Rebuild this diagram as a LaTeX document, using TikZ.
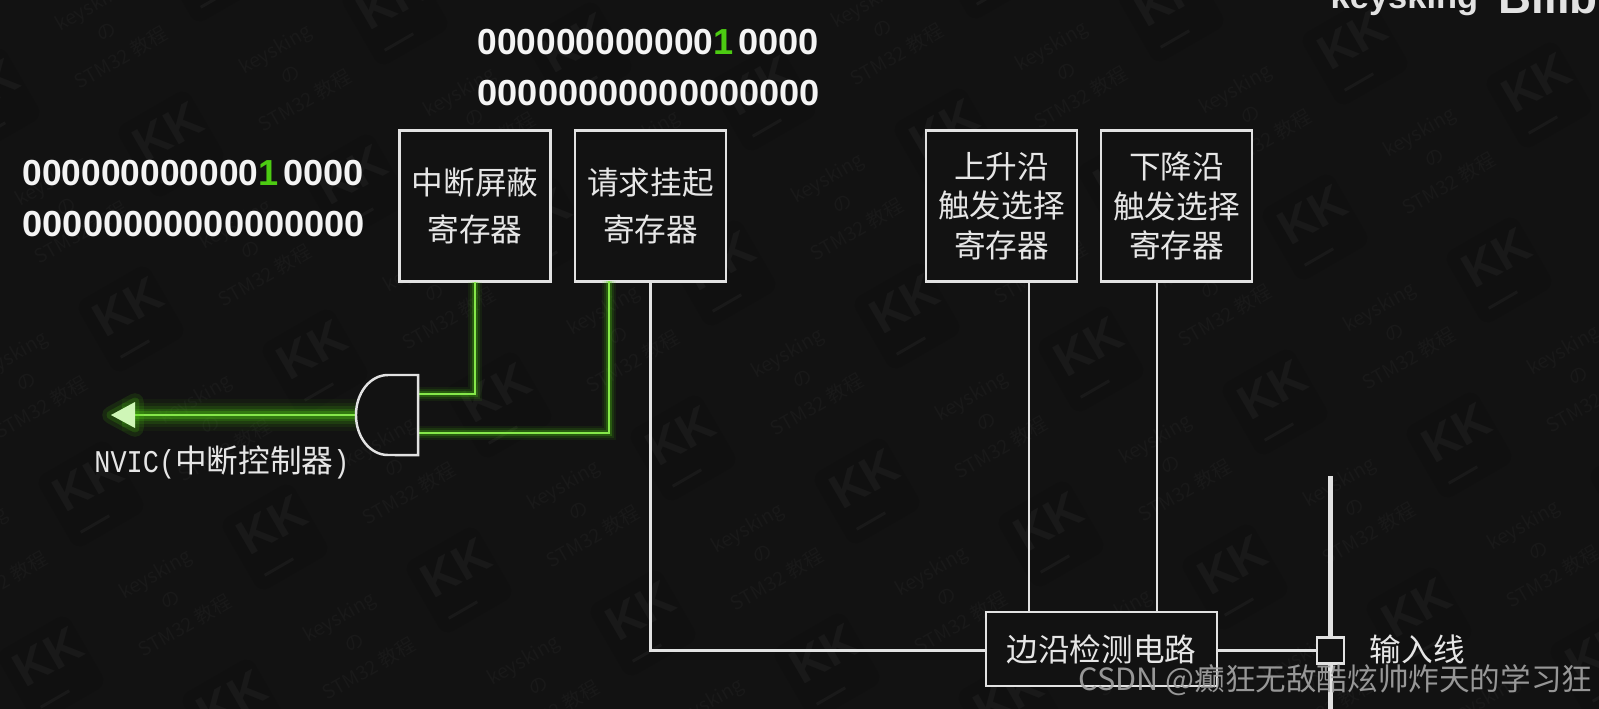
\documentclass[tikz,border=0pt]{standalone}
\usepackage{xcolor}
\usepackage{fontspec}
\setmainfont{Noto Sans CJK SC}
\newfontfamily\digitfont{Liberation Sans}[BoldFont={Liberation Sans Bold}]
\newfontfamily\narrowdigits[FakeStretch=0.975]{Liberation Sans Bold}
\newfontfamily\labelmono[FakeStretch=0.85]{Liberation Mono}

\begin{document}
\begin{tikzpicture}[x=0.01cm,y=-0.01cm,
  regbox/.style={draw=lineWhite, line width=0.75pt, fill=bgDark, inner sep=0pt, outer sep=0pt,
    minimum width=1.51cm, minimum height=1.51cm, align=center, text=textWhite},
  wire/.style={draw=lineWhite, line width=0.7pt},
  bits/.style={anchor=west, inner sep=0pt, text=bitWhite, font=\digitfont\bfseries\fontsize{10.3}{12}\selectfont},
  label/.style={inner sep=0pt, text=textWhite, font=\fontsize{9}{11}\selectfont},
  glowwire/.style={draw=greenCore, line width=0.75pt,
    preaction={draw=greenGlow, line width=4.2pt, opacity=0.08},
    preaction={draw=greenGlow, line width=3.0pt, opacity=0.12},
    preaction={draw=greenGlow, line width=1.9pt, opacity=0.24}},
  glowbig/.style={draw=greenCore, line width=0.8pt,
    preaction={draw=greenGlow, line width=9pt, opacity=0.05},
    preaction={draw=greenGlow, line width=7pt, opacity=0.08},
    preaction={draw=greenGlow, line width=5pt, opacity=0.12},
    preaction={draw=greenGlow, line width=3.4pt, opacity=0.18},
    preaction={draw=greenGlow, line width=2pt, opacity=0.28}},
  wmtile/.style={rectangle, rounded corners=3pt, fill=tileDark, minimum width=0.82cm, minimum height=0.82cm, rotate=30},
  wmkk/.style={text=wmGray, inner sep=0pt, rotate=30, font=\digitfont\bfseries\fontsize{13.8}{14}\selectfont},
  wmbar/.style={fill=wmGray, inner sep=0pt, minimum width=0.33cm, minimum height=0.03cm, rotate=30},
  wmtext/.style={text=wmSoft, inner sep=0pt, rotate=30, align=center, font=\fontsize{5.5}{8.5}\selectfont}]

% Colours
\definecolor{bgDark}{HTML}{121212}
\definecolor{tileDark}{HTML}{101010}
\definecolor{wmGray}{HTML}{191919}
\definecolor{wmSoft}{HTML}{191919}
\definecolor{lineWhite}{HTML}{E2E2E2}
\definecolor{textWhite}{HTML}{E6E6E6}
\definecolor{bitWhite}{HTML}{F4F4F4}
\definecolor{greenCore}{HTML}{86E84A}
\definecolor{greenGlow}{HTML}{4FD010}
\definecolor{greenBit}{HTML}{4CCB12}
\definecolor{markGray}{HTML}{A6A6A6}

% Page
\useasboundingbox (0,0) rectangle (1599,708);
\fill[bgDark] (-5,-5) rectangle (1604,713);
\clip (-5,-5) rectangle (1604,713);

% Watermark lattice
\foreach \n in {-2,...,9}
  \foreach \m in {-4,...,3} {
    \pgfmathsetmacro\kx{272+184*\n-40*\m}
    \pgfmathsetmacro\ky{525+43*\n+175*\m}
    \pgfmathtruncatemacro\inside{and(and(\kx>-20,\kx<1720),and(\ky>-80,\ky<730))}
    \ifnum\inside=1
      \node[wmtile] (tile-\n-\m) at ({\kx+3},{\ky+12}) {};
      \node[wmkk] (kk-\n-\m) at (\kx,\ky) {KK};
      \node[wmbar] (bar-\n-\m) at ({\kx+7},{\ky+42}) {};
      \node[wmtext] (wm-\n-\m) at ({\kx-102},{\ky+75}) {keysking\\の\\STM32 教程};
    \fi
  }

% Channel mark, top right
\node[anchor=base west, inner sep=0pt, text=lineWhite, font=\digitfont\bfseries\fontsize{9.8}{10}\selectfont] (channel) at (1330,8) {keysking};
\node[anchor=base west, inner sep=0pt, text=lineWhite, font=\digitfont\bfseries\fontsize{13}{14}\selectfont] (logo) at (1498,13) {Bilibili};

% Bit rows
\node[bits] (maskbits) at (477,42) {{\narrowdigits 000000000000}{\color{greenBit}1}\kern1.3pt 0000};
\node[bits] (maskzero) at (477,93) {00000000000000000};
\node[bits] (pendbits) at (22,173) {{\narrowdigits 000000000000}{\color{greenBit}1}\kern1.3pt 0000};
\node[bits] (pendzero) at (22,224) {00000000000000000};

% Registers
\node[regbox, font=\fontsize{9}{13.4}\selectfont] (maskbox) at (475,206) {中断屏蔽\\寄存器};
\node[regbox, font=\fontsize{9}{13.4}\selectfont] (pendbox) at (650.5,206) {请求挂起\\寄存器};
\node[regbox, font=\fontsize{9}{11.24}\selectfont] (risebox) at (1001.5,206) {上升沿\\触发选择\\寄存器};
\node[regbox, font=\fontsize{9}{11.24}\selectfont] (fallbox) at (1176.5,206) {下降沿\\触发选择\\寄存器};
\node[regbox, minimum width=2.31cm, minimum height=0.74cm, font=\fontsize{9}{11}\selectfont] (edgebox) at (1101.5,649) {边沿检测电路};

% AND gate
\node[minimum width=0.62cm, minimum height=0.8cm, inner sep=0pt, outer sep=0pt] (gate) at (387,415) {};
\coordinate (gatein1) at (418,394);
\coordinate (gatein2) at (418,433);
\coordinate (pendout) at (609,281);
\coordinate (nvictip) at (122,415);

% Green path
\path[glowwire] (maskbox.south) |- (gatein1);
\path[glowwire] (pendout) |- (gatein2);
\path[glowbig] (gate.west) -- (nvictip);
\draw[draw=lineWhite, line width=0.7pt] (gate.north east) -- (388,375) .. controls (370,375) and (356,393) .. (gate.west)
  .. controls (356,437) and (370,455) .. (388,455) -- (gate.south east) -- cycle;
\coordinate (arrowtip) at (111,415);
\coordinate (arrowtop) at (135,402);
\coordinate (arrowbot) at (135,428);
\path[fill=greenGlow, opacity=0.12, draw=greenGlow, line width=5pt, line join=round] (arrowtip) -- (arrowtop) -- (arrowbot) -- cycle;
\path[fill=greenGlow, opacity=0.18, draw=greenGlow, line width=2.5pt, line join=round] (arrowtip) -- (arrowtop) -- (arrowbot) -- cycle;
\path[fill=greenCore!40!white] (arrowtip) -- (arrowtop) -- (arrowbot) -- cycle;
\node[label] (nvic) at (222,462) {{\labelmono NVIC(}中断控制器{\labelmono )}};

% Edge path
\coordinate (riseout) at (1029,281);
\coordinate (fallout) at (1157,281);
\coordinate (edgeleft) at (986,650.5);
\coordinate (edgeright) at (1217,650.5);
\coordinate (inputtop) at (1330.5,476);
\coordinate (inputbot) at (1330.5,713);
\path[wire] (pendbox.south) |- (edgeleft);
\path[wire] (riseout) -- (riseout |- edgebox.north);
\path[wire] (fallout) -- (fallout |- edgebox.north);
\draw[lineWhite, line width=1.2pt] (inputtop) -- (inputbot);
\node[draw=lineWhite, line width=0.75pt, fill=bgDark, minimum width=0.27cm, minimum height=0.26cm, inner sep=0pt, outer sep=0pt] (inputsq) at (1330.5,650.5) {};
\path[wire] (edgeright) -- (inputsq.west);
\node[label, anchor=west] (inputlab) at (1369,649) {输入线};

% Site mark
\node[anchor=east, inner sep=0pt, text=markGray, opacity=0.9, font=\fontsize{8.7}{10}\selectfont] (csdn) at (1593,680) {CSDN @癫狂无敌酷炫帅炸天的学习狂};

\end{tikzpicture}
\end{document}
